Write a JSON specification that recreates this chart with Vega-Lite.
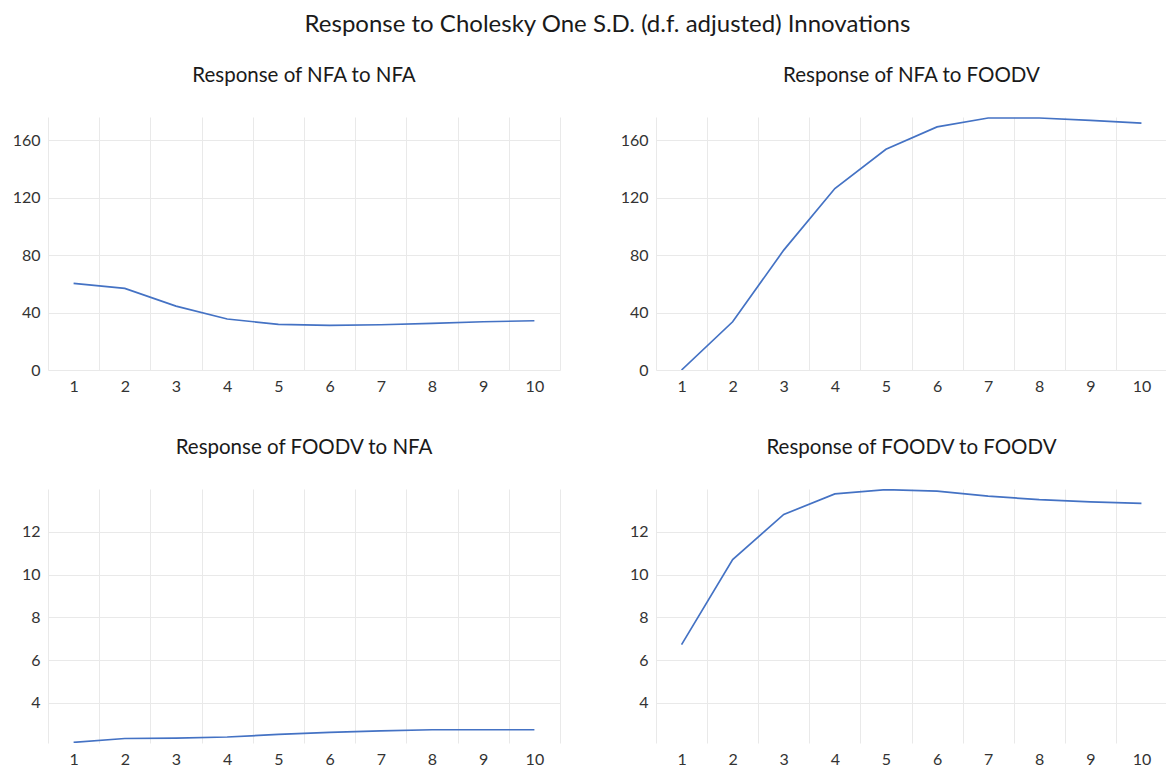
{
  "$schema": "https://vega.github.io/schema/vega-lite/v6.json",
  "background": "white",
  "padding": {"left": 12, "top": 12, "right": 0, "bottom": 0},
  "title": {"text": "Response to Cholesky One S.D. (d.f. adjusted) Innovations", "font": "Lato", "fontSize": 24, "fontWeight": "normal", "color": "#1a1a1a", "anchor": "middle", "offset": 29, "dx": 18},
  "datasets": {
    "irf": [
      {"panel": "NFA_NFA", "period": 1, "value": 60.3},
      {"panel": "NFA_NFA", "period": 2, "value": 56.8},
      {"panel": "NFA_NFA", "period": 3, "value": 44.5},
      {"panel": "NFA_NFA", "period": 4, "value": 35.5},
      {"panel": "NFA_NFA", "period": 5, "value": 31.8},
      {"panel": "NFA_NFA", "period": 6, "value": 31.1},
      {"panel": "NFA_NFA", "period": 7, "value": 31.5},
      {"panel": "NFA_NFA", "period": 8, "value": 32.5},
      {"panel": "NFA_NFA", "period": 9, "value": 33.6},
      {"panel": "NFA_NFA", "period": 10, "value": 34.3},
      {"panel": "NFA_FOODV", "period": 1, "value": 0},
      {"panel": "NFA_FOODV", "period": 2, "value": 33.6},
      {"panel": "NFA_FOODV", "period": 3, "value": 83.5},
      {"panel": "NFA_FOODV", "period": 4, "value": 126.4},
      {"panel": "NFA_FOODV", "period": 5, "value": 153.7},
      {"panel": "NFA_FOODV", "period": 6, "value": 169.3},
      {"panel": "NFA_FOODV", "period": 7, "value": 175.5},
      {"panel": "NFA_FOODV", "period": 8, "value": 175.5},
      {"panel": "NFA_FOODV", "period": 9, "value": 173.9},
      {"panel": "NFA_FOODV", "period": 10, "value": 172.0},
      {"panel": "FOODV_NFA", "period": 1, "value": 2.16},
      {"panel": "FOODV_NFA", "period": 2, "value": 2.34},
      {"panel": "FOODV_NFA", "period": 3, "value": 2.36},
      {"panel": "FOODV_NFA", "period": 4, "value": 2.41},
      {"panel": "FOODV_NFA", "period": 5, "value": 2.53},
      {"panel": "FOODV_NFA", "period": 6, "value": 2.63},
      {"panel": "FOODV_NFA", "period": 7, "value": 2.7},
      {"panel": "FOODV_NFA", "period": 8, "value": 2.75},
      {"panel": "FOODV_NFA", "period": 9, "value": 2.75},
      {"panel": "FOODV_NFA", "period": 10, "value": 2.75},
      {"panel": "FOODV_FOODV", "period": 1, "value": 6.73},
      {"panel": "FOODV_FOODV", "period": 2, "value": 10.7},
      {"panel": "FOODV_FOODV", "period": 3, "value": 12.81},
      {"panel": "FOODV_FOODV", "period": 4, "value": 13.77},
      {"panel": "FOODV_FOODV", "period": 5, "value": 13.97},
      {"panel": "FOODV_FOODV", "period": 6, "value": 13.9},
      {"panel": "FOODV_FOODV", "period": 7, "value": 13.67},
      {"panel": "FOODV_FOODV", "period": 8, "value": 13.5},
      {"panel": "FOODV_FOODV", "period": 9, "value": 13.4},
      {"panel": "FOODV_FOODV", "period": 10, "value": 13.33}
    ]
  },
  "data": {"name": "irf"},
  "vconcat": [
    {
      "hconcat": [
        {
          "title": {"text": "Response of NFA to NFA"},
          "width": 512, "height": 253,
          "transform": [{"filter": "datum.panel === 'NFA_NFA'"}],
          "mark": {"type": "line", "color": "#4472C4", "strokeWidth": 1.7, "clip": true},
          "encoding": {
            "x": {"field": "period", "type": "ordinal", "scale": {"type": "band", "paddingInner": 0, "paddingOuter": 0}, "axis": {"title": null, "tickBand": "extent", "grid": true, "domain": false, "ticks": false, "labelAngle": 0}},
            "y": {"field": "value", "type": "quantitative", "scale": {"domain": [0, 176.2], "nice": false, "zero": false}, "axis": {"title": null, "values": [0, 40, 80, 120, 160]}}
          }
        },
        {
          "title": {"text": "Response of NFA to FOODV"},
          "width": 511, "height": 253,
          "transform": [{"filter": "datum.panel === 'NFA_FOODV'"}],
          "mark": {"type": "line", "color": "#4472C4", "strokeWidth": 1.7, "clip": true},
          "encoding": {
            "x": {"field": "period", "type": "ordinal", "scale": {"type": "band", "paddingInner": 0, "paddingOuter": 0}, "axis": {"title": null, "tickBand": "extent", "grid": true, "domain": false, "ticks": false, "labelAngle": 0}},
            "y": {"field": "value", "type": "quantitative", "scale": {"domain": [0, 176.2], "nice": false, "zero": false}, "axis": {"title": null, "values": [0, 40, 80, 120, 160]}}
          }
        }
      ]
    },
    {
      "hconcat": [
        {
          "title": {"text": "Response of FOODV to NFA"},
          "width": 512, "height": 254,
          "transform": [{"filter": "datum.panel === 'FOODV_NFA'"}],
          "mark": {"type": "line", "color": "#4472C4", "strokeWidth": 1.7, "clip": true},
          "encoding": {
            "x": {"field": "period", "type": "ordinal", "scale": {"type": "band", "paddingInner": 0, "paddingOuter": 0}, "axis": {"title": null, "tickBand": "extent", "grid": true, "domain": false, "ticks": false, "labelAngle": 0}},
            "y": {"field": "value", "type": "quantitative", "scale": {"domain": [2.13, 14], "nice": false, "zero": false}, "axis": {"title": null, "values": [4, 6, 8, 10, 12]}}
          }
        },
        {
          "title": {"text": "Response of FOODV to FOODV"},
          "width": 511, "height": 254,
          "transform": [{"filter": "datum.panel === 'FOODV_FOODV'"}],
          "mark": {"type": "line", "color": "#4472C4", "strokeWidth": 1.7, "clip": true},
          "encoding": {
            "x": {"field": "period", "type": "ordinal", "scale": {"type": "band", "paddingInner": 0, "paddingOuter": 0}, "axis": {"title": null, "tickBand": "extent", "grid": true, "domain": false, "ticks": false, "labelAngle": 0}},
            "y": {"field": "value", "type": "quantitative", "scale": {"domain": [2.13, 14], "nice": false, "zero": false}, "axis": {"title": null, "values": [4, 6, 8, 10, 12]}}
          }
        }
      ],
      "spacing": 60
    }
  ],
  "spacing": 43,
  "config": {
    "view": {"stroke": null},
    "concat": {"spacing": 60},
    "title": {"font": "Lato", "fontSize": 20.5, "fontWeight": "normal", "color": "#1a1a1a", "offset": 31},
    "axisY": {"minExtent": 36},
    "axis": {"labelFont": "Lato", "labelFontSize": 16, "labelColor": "#333333", "gridColor": "#e9e9e9", "gridWidth": 1, "domain": false, "ticks": false, "labelPadding": 8}
  }
}
